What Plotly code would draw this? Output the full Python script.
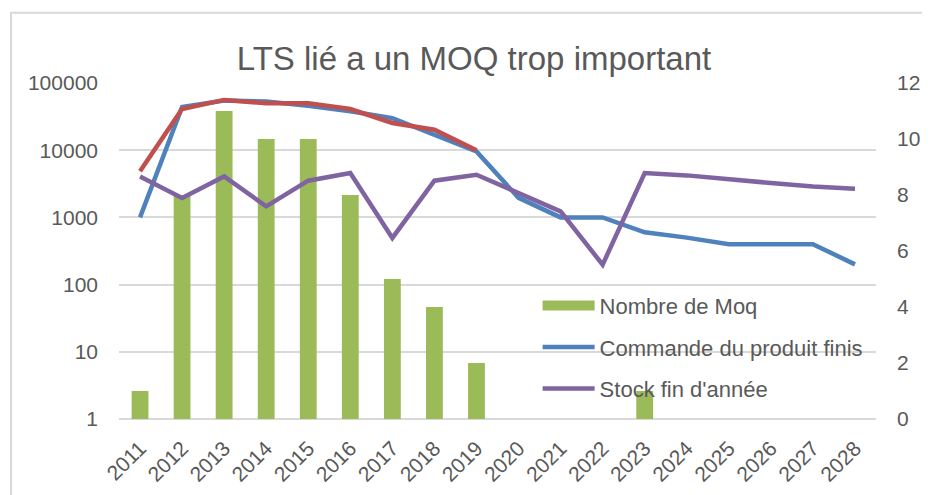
import plotly.graph_objects as go

# Palette (Office 2007 style).
GREEN = "#9BBB59"
BLUE = "#4F81BD"
RED = "#C0504D"
PURPLE = "#8064A2"
GRID = "#D9D9D9"
TEXT = "#595959"
FONT = "Liberation Sans"

years = [str(y) for y in range(2011, 2029)]

# Bars, read on the right (linear) axis.
nombre_moq = [1, 8, 11, 10, 10, 8, 5, 4, 2, None, None, None, 1, None, None, None, None, None]

# Lines, read on the left (log) axis.
commande = [1000, 44000, 55000, 53000, 46000, 38000, 30000, 17000, 9600, 1950,
            1000, 1000, 600, 500, 400, 400, 400, 200]
commande_2 = [4850, 41000, 56000, 50000, 50000, 41000, 25400, 20200, 10000,
              None, None, None, None, None, None, None, None, None]
stock = [4070, 1950, 4070, 1460, 3520, 4580, 495, 3520, 4320, 2300,
         1230, 198, 4580, 4220, 3640, 3250, 2890, 2670]

# page body has an 8px margin, so the figure is drawn 8px smaller
W, H = 922, 487

fig = go.Figure()
fig.add_trace(go.Bar(
    x=years, y=nombre_moq, name="Nombre de Moq",
    marker_color=GREEN, marker_line_width=0,
    yaxis="y", legendgroup="a", showlegend=False,
))
# legend swatch for the bars (wide green block like the original)
fig.add_trace(go.Scatter(
    x=[None], y=[None], name="Nombre de Moq", mode="lines",
    line=dict(color=GREEN, width=14), yaxis="y", legendgroup="a",
))
fig.add_trace(go.Scatter(
    x=years, y=commande, name="Commande du produit finis", mode="lines",
    line=dict(color=BLUE, width=4.5), yaxis="y2", legendgroup="b",
))
fig.add_trace(go.Scatter(
    x=years, y=commande_2, name="Commande", mode="lines", showlegend=False,
    line=dict(color=RED, width=4.5), yaxis="y2", legendgroup="d",
))
fig.add_trace(go.Scatter(
    x=years, y=stock, name="Stock fin d'année", mode="lines",
    line=dict(color=PURPLE, width=4.5), yaxis="y2", legendgroup="c",
))

fig.update_layout(
    width=W, height=H,
    paper_bgcolor="white", plot_bgcolor="white",
    font=dict(family=FONT, color=TEXT, size=21),
    title=dict(text="LTS lié a un MOQ trop important", x=466 / W, xref="container",
               y=1 - 50 / H, yref="container", xanchor="center", yanchor="middle",
               font=dict(size=33, color=TEXT)),
    margin=dict(l=111, r=54, t=75, b=76),
    bargap=0.6,
    legend=dict(x=0.553, y=0.40, xanchor="left", yanchor="top",
                bgcolor="rgba(0,0,0,0)", font=dict(size=22, color=TEXT),
                traceorder="grouped", tracegroupgap=10, itemwidth=52),
    xaxis=dict(type="category", tickangle=-45, showgrid=False, showline=False,
               ticks="", tickfont=dict(size=21), ticklabelstandoff=12,
               automargin=False),
    yaxis=dict(side="right", range=[0, 12], dtick=2, showgrid=False,
               zeroline=True, zerolinecolor=GRID, zerolinewidth=2,
               ticklabelstandoff=20, automargin=False),
    yaxis2=dict(side="left", overlaying="y", type="log", range=[0, 5], dtick=1,
                tickformat="d", showgrid=True, gridcolor=GRID, gridwidth=2,
                zeroline=False, ticklabelstandoff=20, automargin=False),
    shapes=[dict(type="rect", xref="paper", yref="paper",
                 x0=(3 - 111) / 757, x1=1.2, y0=-0.3, y1=(411.3 - 5) / 336,
                 line=dict(color=GRID, width=2), layer="below")],
)

fig.write_html("out.html")
